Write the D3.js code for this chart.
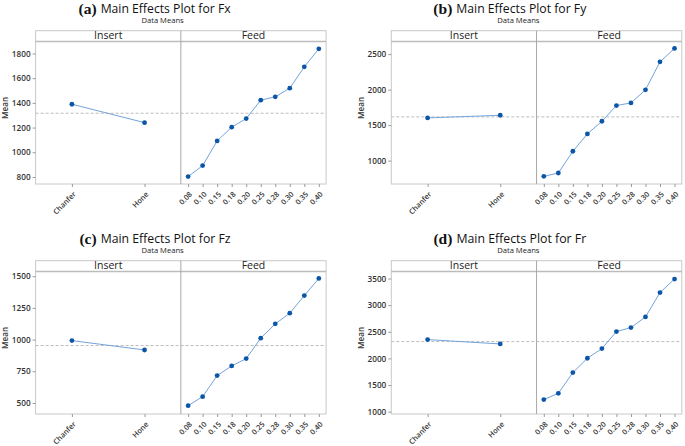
<!DOCTYPE html>
<html><head><meta charset="utf-8">
<script src="https://cdn.jsdelivr.net/npm/d3@7"></script>
<style>body{margin:0;background:#fff} svg{display:block}</style>
</head><body><svg id="c" width="685" height="446"></svg>
<script>
// ---- data ----
const insertLevels = ["Chanfer", "Hone"];
const feedLevels = ["0.08", "0.10", "0.15", "0.18", "0.20", "0.25", "0.28", "0.30", "0.35", "0.40"];
const panelLetters = ["(a)", "(b)", "(c)", "(d)"];
const panelTitles = ["Main Effects Plot for Fx", "Main Effects Plot for Fy", "Main Effects Plot for Fz", "Main Effects Plot for Fr"];
const subTitle = "Data Means";
const stripLabels = ["Insert", "Feed"];
const yLabel = "Mean";

const fxInsert = [1389, 1240];
const fxFeed = [803, 892, 1092, 1203, 1273, 1422, 1449, 1519, 1692, 1838];
const fxMean = 1316;
const fxTicks = [800, 1000, 1200, 1400, 1600, 1800];
const fxDomain = [743, 1897];

const fyInsert = [1602, 1639];
const fyFeed = [779, 826, 1132, 1376, 1555, 1776, 1813, 1997, 2392, 2580];
const fyMean = 1616;
const fyTicks = [1000, 1500, 2000, 2500];
const fyDomain = [671, 2678];

const fzInsert = [992, 918];
const fzFeed = [479, 550, 716, 792, 850, 1011, 1124, 1208, 1347, 1482];
const fzMean = 953;
const fzTicks = [500, 750, 1000, 1250, 1500];
const fzDomain = [413, 1537];

const frInsert = [2353, 2272];
const frFeed = [1226, 1345, 1733, 2003, 2184, 2504, 2579, 2779, 3237, 3490];
const frMean = 2316;
const frTicks = [1000, 1500, 2000, 2500, 3000, 3500];
const frDomain = [956, 3632];

const panels = [
  {ins: fxInsert, feed: fxFeed, mean: fxMean, ticks: fxTicks, domain: fxDomain},
  {ins: fyInsert, feed: fyFeed, mean: fyMean, ticks: fyTicks, domain: fyDomain},
  {ins: fzInsert, feed: fzFeed, mean: fzMean, ticks: fzTicks, domain: fzDomain},
  {ins: frInsert, feed: frFeed, mean: frMean, ticks: frTicks, domain: frDomain}
];

// ---- drawing ----
const svg = d3.select("#c");
const SANS = "'Open Sans', 'Noto Sans', sans-serif";
const W = 290.5, HDR = 10.8, BOT = 153.3;
const lineColor = "#74a3db", dotColor = "#0b56a6";

panels.forEach((p, i) => {
  const col = i % 2, row = Math.floor(i / 2);
  const L = 35.6 + col * 355.7, T = 30.7 + row * 230;
  const g = svg.append("g").attr("transform", `translate(${L},${T})`);

  const xI = d3.scalePoint().domain(insertLevels).range([0, W / 2]).padding(0.5);
  const xF = d3.scalePoint().domain(feedLevels).range([W / 2, W]).padding(0.5);
  const y = d3.scaleLinear().domain(p.domain).range([BOT, HDR]);

  // titles
  const cx = 130;
  const mt = g.append("text").attr("x", cx).attr("y", -17.4)
    .attr("text-anchor", "middle").attr("font-family", SANS)
    .attr("font-size", 12).attr("fill", "#111").text(panelTitles[i]);
  const fs = Math.min(13.5, Math.max(10.5, 12 * 130 / mt.node().getComputedTextLength()));
  mt.attr("font-size", fs);
  const tw = mt.node().getComputedTextLength();
  g.append("text").attr("x", cx - tw / 2 - 4).attr("y", -17)
    .attr("text-anchor", "end").attr("font-family", "'Liberation Serif', 'Times New Roman', serif")
    .attr("font-weight", "bold").attr("font-size", 15.5).attr("fill", "#111").text(panelLetters[i]);
  g.append("text").attr("x", cx - 3).attr("y", -7.4)
    .attr("text-anchor", "middle").attr("font-family", SANS)
    .attr("font-size", 7.6).attr("fill", "#222").text(subTitle);

  // frame
  g.append("rect").attr("x", 0).attr("y", 0).attr("width", W).attr("height", BOT)
    .attr("fill", "none").attr("stroke", "#c8c8c8").attr("stroke-width", 1);
  g.append("line").attr("x1", 0).attr("x2", W).attr("y1", HDR).attr("y2", HDR)
    .attr("stroke", "#bcbcbc").attr("stroke-width", 1.3);
  g.append("line").attr("x1", W / 2).attr("x2", W / 2).attr("y1", 0).attr("y2", BOT)
    .attr("stroke", "#a8a8a8").attr("stroke-width", 1);

  // strip labels
  g.append("text").attr("x", W / 4).attr("y", 8.6).attr("text-anchor", "middle")
    .attr("font-family", SANS).attr("font-size", 10.5).attr("fill", "#222").text(stripLabels[0]);
  g.append("text").attr("x", 3 * W / 4).attr("y", 8.6).attr("text-anchor", "middle")
    .attr("font-family", SANS).attr("font-size", 10.5).attr("fill", "#222").text(stripLabels[1]);

  // mean reference line
  g.append("line").attr("x1", 0).attr("x2", W).attr("y1", y(p.mean)).attr("y2", y(p.mean))
    .attr("stroke", "#b5b5b5").attr("stroke-width", 0.9).attr("stroke-dasharray", "3,2");

  // y axis
  const ya = g.append("g").call(d3.axisLeft(y).tickValues(p.ticks).tickFormat(d3.format("d")).tickSize(3).tickPadding(2));
  ya.select(".domain").remove();
  ya.selectAll(".tick line").attr("stroke", "#9a9a9a");
  ya.selectAll(".tick text").attr("font-family", SANS).attr("font-size", 8.2)
    .attr("font-weight", 600).attr("fill", "#333");
  g.append("text").attr("transform", `translate(-27.4,${BOT / 2 + 0.5}) rotate(-90)`)
    .attr("text-anchor", "middle").attr("font-family", SANS).attr("font-size", 8.2)
    .attr("font-weight", 600).attr("fill", "#333").text(yLabel);

  // x axes
  [xI, xF].forEach(sc => {
    const xa = g.append("g").attr("transform", `translate(0,${BOT})`)
      .call(d3.axisBottom(sc).tickSize(3));
    xa.select(".domain").remove();
    xa.selectAll(".tick line").attr("stroke", "#9a9a9a");
    xa.selectAll(".tick text").attr("x", 0).attr("y", 0).attr("dy", null)
      .attr("text-anchor", "end").attr("transform", "translate(4,10.8) rotate(-45)")
      .attr("font-family", SANS).attr("font-size", 7.4).attr("font-weight", 600).attr("fill", "#333");
  });

  // lines & points
  const insData = insertLevels.map((k, j) => [xI(k), y(p.ins[j])]);
  const feedData = feedLevels.map((k, j) => [xF(k), y(p.feed[j])]);
  [insData, feedData].forEach(d => {
    g.append("path").attr("d", d3.line()(d)).attr("fill", "none")
      .attr("stroke", lineColor).attr("stroke-width", 1);
    g.selectAll(null).data(d).enter().append("circle")
      .attr("cx", q => q[0]).attr("cy", q => q[1]).attr("r", 2.4).attr("fill", dotColor);
  });
});
</script></body></html>
